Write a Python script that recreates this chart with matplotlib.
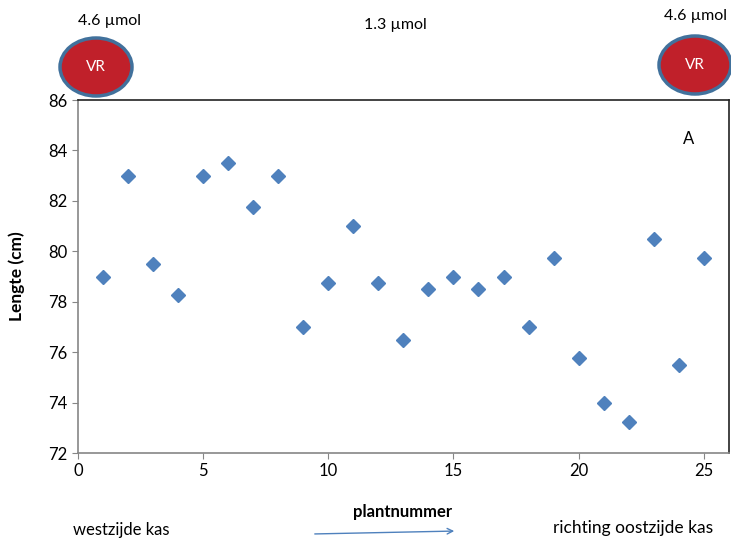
import matplotlib
matplotlib.use("Agg")
from matplotlib import pyplot as plt
from matplotlib.patches import Ellipse

plt.rcParams['font.family'] = ['Lato', 'DejaVu Sans']

# plant number vs length (cm)
plantnummer = list(range(1, 26))
lengte = [79, 83, 79.5, 78.25, 83, 83.5, 81.75, 83, 77, 78.75,
          81, 78.75, 76.5, 78.5, 79, 78.5, 79, 77, 79.75, 75.75,
          74, 73.25, 80.5, 75.5, 79.75]

fig = plt.figure(figsize=(7.31, 5.43), dpi=100)
ax = fig.add_axes([0.1067, 0.1657, 0.8903, 0.6501])

ax.plot(plantnummer, lengte, linestyle='none', marker='D', markersize=7.5,
        color='#4F81BD', markeredgecolor='#4F81BD')

ax.set_xlim(0, 26)
ax.set_ylim(72, 86)
ax.set_xticks([0, 5, 10, 15, 20, 25])
ax.set_yticks(range(72, 87, 2))
ax.tick_params(direction='out', length=4, labelsize=12, color='#868686')
ax.spines['left'].set_color('#868686')
ax.spines['bottom'].set_color('#868686')
ax.spines['top'].set_color('#222222')
ax.spines['right'].set_color('#222222')
for s in ax.spines.values():
    s.set_linewidth(1.2)

ax.set_ylabel('Lengte (cm)', fontsize=12.5, fontweight='bold')
ax.yaxis.set_label_coords(-0.081, 0.5)
ax.text(0.9386, 0.89, 'A', transform=ax.transAxes, fontsize=12, ha='center', va='center')

# annotations in figure pixels
def fx(x):
    return x / 731

def fy(y):
    return 1 - y / 543

fig.text(fx(403), fy(512), 'plantnummer', fontsize=12, fontweight='bold', ha='center', va='center')
fig.text(fx(121), fy(530), 'westzijde kas', fontsize=12, ha='center', va='center')
fig.text(fx(633), fy(528), 'richting oostzijde kas', fontsize=12.5, ha='center', va='center')
fig.text(fx(110), fy(21), '4.6 µmol', fontsize=11.5, ha='center', va='center')
fig.text(fx(395), fy(25), '1.3 µmol', fontsize=11.5, ha='center', va='center')
fig.text(fx(695), fy(16), '4.6 µmol', fontsize=11.5, ha='center', va='center')

ax.annotate('', xy=(fx(457), fy(531)), xytext=(fx(312), fy(534)),
            xycoords='figure fraction', textcoords='figure fraction',
            arrowprops=dict(arrowstyle='->', color='#4F81BD', lw=1))

for cx, cy in [(96, 67), (695, 65)]:
    e = Ellipse((fx(cx), fy(cy)), width=fx(72), height=58 / 543,
                transform=fig.transFigure, facecolor='#C0202A',
                edgecolor='#41719C', linewidth=2.5)
    fig.patches.append(e)
    fig.text(fx(cx), fy(cy), 'VR', color='white', fontsize=11, ha='center', va='center')

fig.savefig('out.png', dpi=100)
